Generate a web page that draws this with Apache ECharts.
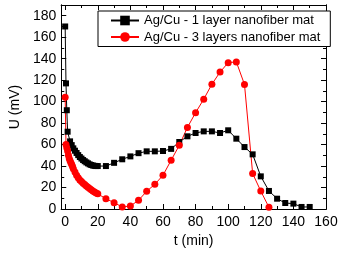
<!DOCTYPE html>
<html>
<head>
<meta charset="utf-8">
<script src="https://cdn.jsdelivr.net/npm/echarts@6/dist/echarts.min.js"></script>
<style>
html,body{margin:0;padding:0;background:#fff;}
#c{width:342px;height:254px;}
</style>
</head>
<body>
<div id="c"></div>
<script>
// ---- data ----
const seriesNames = ['Ag/Cu - 1 layer nanofiber mat', 'Ag/Cu - 3 layers nanofiber mat'];
const blackT = [0, 0.5, 1, 1.5, 3, 4, 5, 6, 7, 8, 9, 10, 11, 12, 13, 14, 15, 16, 17, 18, 19, 20,
  25, 30, 35, 40, 45, 50, 55, 60, 65, 70, 75, 80, 85, 90, 95, 100, 105, 110, 115, 120, 125, 130, 135, 140, 145, 150];
const blackU = [170, 117, 92, 72, 63, 59.5, 56.5, 54.3, 52.2, 50.2, 48.4, 47, 45.6, 44.5, 43.4, 42.5, 41.6, 41, 40.5, 40.2, 40, 40,
  40, 43, 46.3, 49, 52, 53.7, 53.7, 54, 56, 62.4, 67.7, 70.8, 72.3, 72.3, 70.8, 73.3, 65.5, 57.7, 50.9, 30.4, 16.8, 9.6, 5.6, 5, 1.9, 1.9];
const redT = [0, 0.5, 1, 1.5, 2, 2.5, 3, 3.5, 4, 4.5, 5, 6, 7, 8, 9, 10, 11, 12, 13, 14, 15, 16, 17, 18, 19, 20,
  25, 30, 35, 40, 45, 50, 55, 60, 65, 70, 75, 80, 85, 90, 95, 100, 105, 110, 115, 120, 125];
const redU = [104, 60, 57, 54, 50, 47, 45, 43, 41.5, 39.5, 37.5, 34.5, 31.5, 29, 27, 25.5, 24, 22.8, 21.5, 20.3, 19, 18, 16.8, 15.8, 15, 14.2,
  9.6, 5.9, 1.9, 2.8, 8.1, 16.5, 23, 31.4, 45.4, 59.3, 76, 89.7, 102.3, 116.2, 127.5, 136.3, 137, 116, 33, 16.7, 1.6];
const xTicks = [0, 20, 40, 60, 80, 100, 120, 140, 160];
const xMinorTicks = [10, 30, 50, 70, 90, 110, 130, 150];
const yTicks = [0, 20, 40, 60, 80, 100, 120, 140, 160, 180];
const yMinorTicks = [10, 30, 50, 70, 90, 110, 130, 150, 170];
const xName = 't (min)';
const yName = 'U (mV)';

const pairs = (t, u) => t.map((v, i) => [v, u[i]]);

const X_MIN = -2.4, X_MAX = 160, Y_MIN = 0, Y_MAX = 190;
const AX = '#000';
const FONT = 'Liberation Sans, Arial, sans-serif';

function xAx(pos, ticks, len, labels, extra) {
  return Object.assign({
    type: 'value', position: pos, min: X_MIN, max: X_MAX,
    axisLine: { show: true, onZero: false, lineStyle: { color: AX, width: 1 } },
    axisTick: { show: true, inside: true, length: len, customValues: ticks, lineStyle: { color: AX } },
    axisLabel: labels ? { show: true, customValues: ticks, color: '#000', fontSize: 14, fontFamily: FONT, margin: 6 } : { show: false },
    splitLine: { show: false }
  }, extra || {});
}
function yAx(pos, ticks, len, labels, extra) {
  return Object.assign({
    type: 'value', position: pos, min: Y_MIN, max: Y_MAX,
    axisLine: { show: true, onZero: false, lineStyle: { color: AX, width: 1 } },
    axisTick: { show: true, inside: true, length: len, customValues: ticks, lineStyle: { color: AX } },
    axisLabel: labels ? { show: true, customValues: ticks, color: '#000', fontSize: 14, fontFamily: FONT, margin: 5 } : { show: false },
    splitLine: { show: false }
  }, extra || {});
}

const chart = echarts.init(document.getElementById('c'), null, { renderer: 'canvas' });
chart.setOption({
  animation: false,
  backgroundColor: '#fff',
  grid: { left: 51, right: 16, top: 5, bottom: 45, containLabel: false },
  xAxis: [
    xAx('bottom', xTicks, 5, true, { name: xName, nameLocation: 'middle', nameGap: 25,
      nameTextStyle: { color: '#000', fontSize: 14, fontFamily: FONT } }),
    xAx('bottom', xMinorTicks, 3, false),
    xAx('top', xTicks, 5, false),
    xAx('top', xMinorTicks, 3, false)
  ],
  yAxis: [
    yAx('left', yTicks, 5, true, { name: yName, nameLocation: 'middle', nameGap: 33,
      nameTextStyle: { color: '#000', fontSize: 14, fontFamily: FONT } }),
    yAx('left', yMinorTicks, 3, false),
    yAx('right', yTicks, 5, false),
    yAx('right', yMinorTicks, 3, false)
  ],
  legend: {
    orient: 'vertical', left: 98, top: 11,
    padding: [3, 10, 3, 12],
    itemWidth: 28, itemHeight: 12, itemGap: 3.5,
    borderColor: '#000', borderWidth: 1, borderRadius: 0,
    backgroundColor: '#fff',
    textStyle: { color: '#000', fontSize: 13, fontFamily: FONT },
    data: seriesNames
  },
  series: [
    {
      name: seriesNames[0], type: 'line', xAxisIndex: 0, yAxisIndex: 0,
      data: pairs(blackT, blackU),
      symbol: 'rect', symbolSize: 6, showAllSymbol: true,
      color: '#000',
      lineStyle: { color: '#000', width: 1 },
      itemStyle: { color: '#000' }
    },
    {
      name: seriesNames[1], type: 'line', xAxisIndex: 0, yAxisIndex: 0,
      data: pairs(redT, redU),
      symbol: 'circle', symbolSize: 7, showAllSymbol: true,
      color: '#ff0000',
      lineStyle: { color: '#ff0000', width: 1 },
      itemStyle: { color: '#ff0000' }
    }
  ]
});
</script>
</body>
</html>
